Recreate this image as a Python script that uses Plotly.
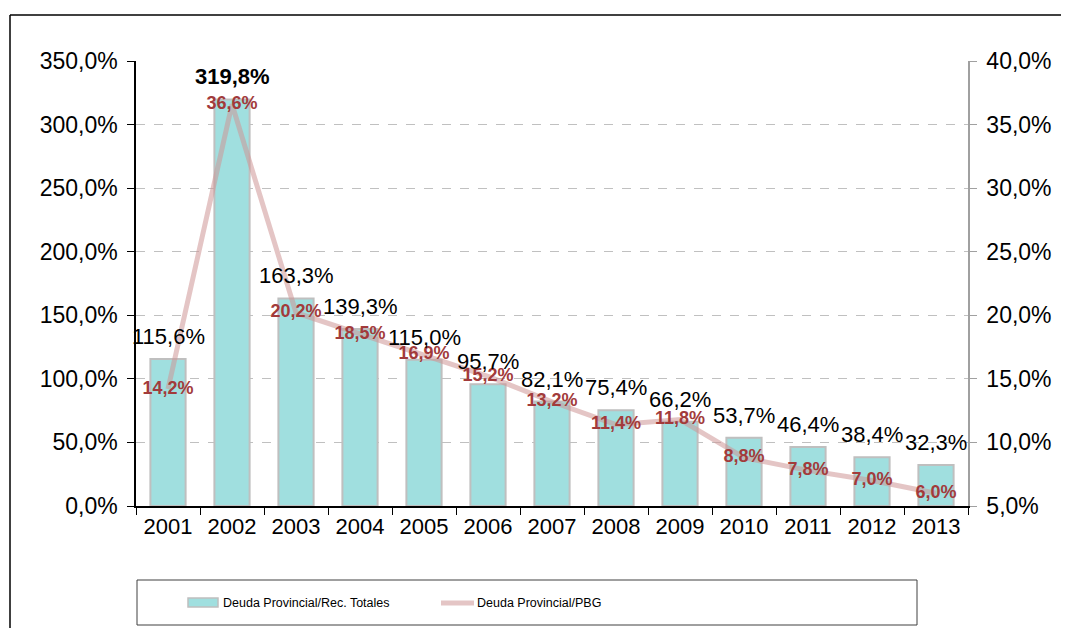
import plotly.graph_objects as go

years = ["2001", "2002", "2003", "2004", "2005", "2006", "2007",
         "2008", "2009", "2010", "2011", "2012", "2013"]
deuda_rec = [115.6, 319.8, 163.3, 139.3, 115.0, 95.7, 82.1,
             75.4, 66.2, 53.7, 46.4, 38.4, 32.3]
deuda_pbg = [14.2, 36.6, 20.2, 18.5, 16.9, 15.2, 13.2,
             11.4, 11.8, 8.8, 7.8, 7.0, 6.0]
name_bar = "Deuda Provincial/Rec. Totales"
name_line = "Deuda Provincial/PBG"


def fmt(v):
    return f"{v:.1f}".replace(".", ",") + "%"


FONT = "Liberation Sans, Arial, sans-serif"
OFF = 8  # page body margin
W, H = 1069 - OFF, 628 - OFF
# plot area in reference pixel coords
L, R, T, B = 136, 968, 61, 506

xpos = list(range(len(years)))
BAR_COLOR = "#a0dfdf"
BAR_EDGE = "#bfbfbf"
LINE_COLOR = "rgba(205,150,150,0.55)"

fig = go.Figure()
fig.add_trace(go.Bar(
    x=xpos, y=deuda_rec, name=name_bar,
    marker=dict(color=BAR_COLOR, line=dict(color=BAR_EDGE, width=2)),
    width=0.55, yaxis="y", showlegend=False,
))
fig.add_trace(go.Scatter(
    x=xpos, y=deuda_pbg, name=name_line, yaxis="y2",
    mode="lines+text", showlegend=False,
    line=dict(color=LINE_COLOR, width=5),
    text=[fmt(v) for v in deuda_pbg], textposition="middle center",
    textfont=dict(family=FONT, size=18, color="#a23b3b", weight="bold"),
))

for xp, v in zip(xpos, deuda_rec):
    fig.add_annotation(
        x=xp, y=v, xref="x", yref="y", text=fmt(v), showarrow=False,
        yanchor="bottom", yshift=8,
        font=dict(family=FONT, size=22, color="#000000",
                  weight="bold" if v == max(deuda_rec) else "normal"),
    )

pw, ph = R - L, B - T


def px_x(x):
    return (x - L) / pw


def px_y(y):
    return (B - y) / ph


# outer frame (top and left edges)
fig.add_shape(type="line", xref="paper", yref="paper",
              x0=px_x(10), x1=px_x(1075), y0=px_y(15), y1=px_y(15),
              line=dict(color="#000000", width=1.5))
fig.add_shape(type="line", xref="paper", yref="paper",
              x0=px_x(10), x1=px_x(10), y0=px_y(15), y1=px_y(640),
              line=dict(color="#000000", width=1.5))
# legend box
fig.add_shape(type="rect", xref="paper", yref="paper",
              x0=px_x(137), x1=px_x(917), y0=px_y(580), y1=px_y(625),
              line=dict(color="#404040", width=1))
# legend entries
fig.add_shape(type="rect", xref="paper", yref="paper",
              x0=px_x(188), x1=px_x(218), y0=px_y(598), y1=px_y(607),
              fillcolor=BAR_COLOR, line=dict(color=BAR_EDGE, width=1.5))
fig.add_annotation(x=px_x(221), y=px_y(603), xref="paper", yref="paper",
                   text=name_bar, showarrow=False, xanchor="left", yanchor="middle",
                   font=dict(family=FONT, size=12.5, color="#000000"))
fig.add_shape(type="line", xref="paper", yref="paper",
              x0=px_x(441), x1=px_x(474), y0=px_y(603), y1=px_y(603),
              line=dict(color=LINE_COLOR, width=5))
fig.add_annotation(x=px_x(475), y=px_y(603), xref="paper", yref="paper",
                   text=name_line, showarrow=False, xanchor="left", yanchor="middle",
                   font=dict(family=FONT, size=12.5, color="#000000"))

fig.update_layout(
    width=W, height=H,
    margin=dict(l=L - OFF, r=(1069 - R), t=T - OFF, b=(628 - B)),
    paper_bgcolor="white", plot_bgcolor="white",
    separators=",.",
    font=dict(family=FONT, color="#000000"),
    showlegend=False,
    xaxis=dict(range=[-0.5, len(years) - 0.5],
               tickmode="array", tickvals=xpos, ticktext=years,
               ticks="", showline=True, linecolor="#000000", linewidth=1.5,
               tickfont=dict(family=FONT, size=22, color="#000000"),
               minor=dict(tickmode="array",
                          tickvals=[i - 0.5 for i in range(len(years) + 1)],
                          ticks="outside", ticklen=7, tickcolor="#000000",
                          showgrid=False),
               showgrid=False, zeroline=False),
    yaxis=dict(range=[0, 350], dtick=50, tickformat=".1f", ticksuffix="%",
               showline=True, linecolor="#000000", linewidth=1.5,
               ticks="outside", ticklen=7, tickcolor="#000000",
               ticklabelstandoff=5,
               tickfont=dict(family=FONT, size=23, color="#000000"),
               showgrid=True, gridcolor="#c0c0c0", griddash="dash", gridwidth=1,
               zeroline=False),
    yaxis2=dict(range=[5, 40], dtick=5, tickformat=".1f", ticksuffix="%",
                overlaying="y", side="right",
                showline=True, linecolor="#a0a0a0", linewidth=1.5,
                ticks="outside", ticklen=7, tickcolor="#a0a0a0",
                ticklabelstandoff=5,
                tickfont=dict(family=FONT, size=23, color="#000000"),
                showgrid=False, zeroline=False),
)

fig.write_html("out.html")
